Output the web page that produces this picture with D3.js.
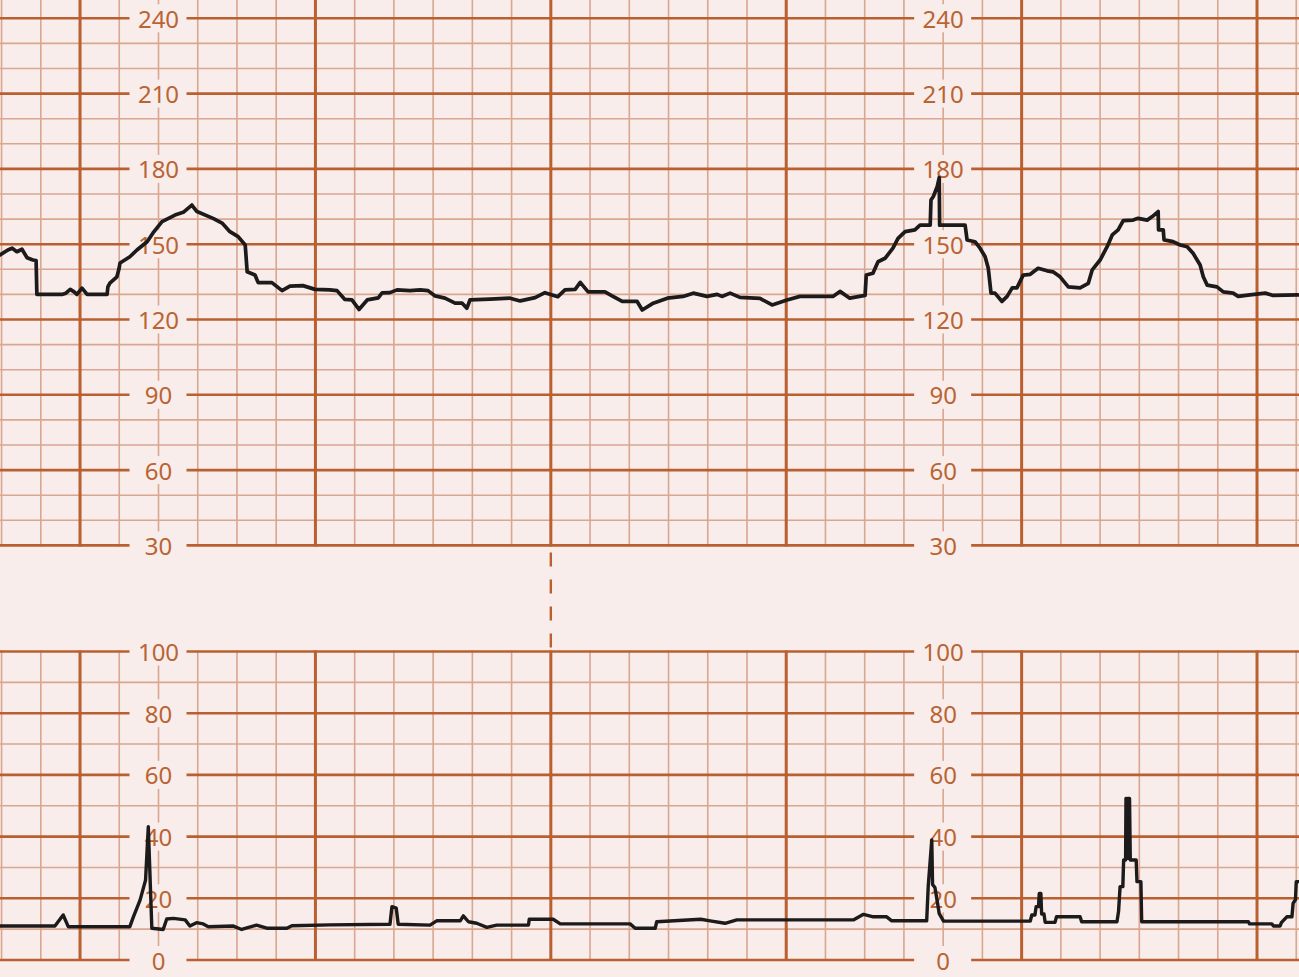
<!DOCTYPE html>
<html>
<head>
<meta charset="utf-8">
<script src="https://cdn.jsdelivr.net/npm/d3@7"></script>
<style>
  html, body { margin: 0; padding: 0; background: #f8edea; }
  svg { display: block; }
</style>
</head>
<body>
<svg id="chart" width="1299" height="977"></svg>
<script>
// ---- DATA (time in seconds) ----
const fhrTime = [-20.4,-18.4,-17.3,-16.1,-14.8,-13.5,-12.0,-11.2,-11.0,-4.6,-3.6,-2.5,-1.5,-0.8,0.5,1.8,6.9,7.1,7.6,9.4,9.9,10.2,12.7,14.5,17.1,18.6,20.9,24.2,26.3,28.5,29.8,33.9,36.2,38.2,40.3,42.1,42.6,44.6,45.4,48.9,51.5,53.5,56.8,59.9,63.7,65.5,67.5,69.3,71.1,73.2,76.0,77.0,79.0,80.8,84.1,86.7,88.7,90.5,93.0,95.6,97.4,98.6,99.4,104.5,109.6,112.2,116.0,118.5,121.8,123.6,126.2,127.5,129.5,133.8,135.6,138.2,142.0,143.3,146.1,149.7,153.7,156.3,159.8,162.4,163.6,165.7,168.2,173.3,176.4,180.2,183.5,191.9,193.7,196.2,200.1,200.4,202.1,203.4,205.2,207.2,208.5,210.3,212.8,214.1,216.7,216.9,217.5,218.5,219.0,219.1,225.6,226.1,228.1,229.4,230.7,231.5,232.2,233.2,235.0,236.3,237.6,238.8,240.4,242.2,244.2,246.5,248.0,249.8,251.9,254.9,257.0,258.0,260.0,261.8,263.1,264.6,265.9,268.4,269.7,272.0,273.3,274.8,274.9,276.1,276.3,278.6,280.4,282.2,283.7,285.5,286.3,287.3,289.8,291.4,293.9,295.2,298.2,302.1,304.1,310.5];
const fhrValue = [145.7,147.7,148.4,147,148,144.6,143.7,143.5,130,130,130.5,132,131,130,132.5,130,130,133,134.5,137,140,142.5,145,147.7,151,154.5,159,161.6,162.7,165.6,163,160.3,158.4,155,153,149.7,139,137.7,134.7,134.7,131.5,133.3,133.5,132,131.8,131.5,128,127.8,124,127.8,128.6,130.6,130.7,131.8,131.5,131.8,131.5,129.4,128.5,126.5,126.5,124.5,127.8,128.1,128.5,127.4,128.7,130.7,129.1,131.8,132,134.8,131,131,129.4,127.2,127.2,123.8,126.5,128.5,129.2,130.5,129.2,130,129.2,130.5,128.8,128.4,125.8,127.8,129.2,129.2,131.2,128.5,129.6,137.7,138.4,143,144.4,148.4,152.3,155,155.7,157.6,157.6,167.6,169,173,176.5,157.6,157.6,151.7,151,148.4,145,140.4,130.5,130.5,127.2,129.2,132.6,132.6,137.7,138,140.4,139.4,139,137,133,132.6,134.4,139.8,143.7,149,153.7,155.7,159.4,159.6,160.3,159.6,161,163,155.7,155.7,151.7,151,149.7,149,146.4,141.7,137,133.7,133,131,130.5,129.2,129.8,130.5,129.6,129.8];

const uaTime = [-20.4,-6.4,-4.3,-3.0,12.7,13.6,15.3,16.7,17.4,18.3,21.2,22.1,23.8,26.8,28.0,29.7,31.4,32.7,39.1,41.2,45.0,47.6,52.7,54.0,63.7,79.0,79.5,80.6,81.1,89.2,90.9,96.9,97.7,99.0,101.1,103.7,106.2,114.3,114.5,120.6,122.4,140.2,141.5,146.6,147.0,158.2,160.6,164.4,167.4,197.1,199.7,202.2,205.6,206.9,215.8,216.2,217.1,217.3,217.9,218.5,219.0,220.1,242.2,242.6,243.4,243.7,244.3,244.5,244.9,245.1,245.7,246.0,248.5,248.9,254.9,255.3,264.3,264.7,265.1,265.8,266.0,266.5,266.6,266.9,267.0,267.2,267.5,267.7,269.2,269.4,270.4,270.6,297.8,298.1,303.8,304.2,305.9,306.2,307.6,308.9,309.2,309.8,310.0,310.8];
const uaValue = [11,11,14.6,10.8,10.8,14,19.4,25.9,43.2,10.3,9.9,13.3,13.5,13,11,12.1,11.7,10.8,11,9.9,11.3,10.3,10.3,11.1,11.4,11.6,17.3,16.8,11.6,11.3,12.7,12.7,14.3,12.4,11.9,10.6,11.3,11.3,13.2,13.2,11.7,11.7,10.3,10.3,12.4,13.2,12.7,11.9,13,13,14.8,14,14,12.7,12.7,24,38.9,24.5,23.5,19,15,12.6,12.6,14.6,14.6,17.3,17.3,21.6,21.6,14.9,14.9,12.2,12.2,14,14,12.4,12.4,15.7,23.8,23.8,32.4,32.4,52.4,52.4,33,52.4,52.4,32.4,32.4,25.4,25.4,12.4,12.4,11.7,11.7,11,11,12.1,14,14,18.4,19.5,25.4,25.4];

const fhrTicks = [240,210,180,150,120,90,60,30];
const uaTicks = [100,80,60,40,20,0];
const labelTimes = [20, 220];   // columns where the scale labels sit
const dividerTime = 120;        // dashed connector between panels

// ---- LAYOUT ----
const W = 1299, H = 977;
const C = { bg: "#f8edea", major: "#b95f30", minor: "#d9a68f", text: "#b96434", trace: "#1c1a1a" };

const x = d3.scaleLinear().domain([-20.4, 310.7]).range([0, W]);
const yF = d3.scaleLinear().domain([30, 240]).range([545.4, 18.3]);
const yU = d3.scaleLinear().domain([0, 100]).range([960, 651.5]);

const svg = d3.select("#chart");
svg.append("rect").attr("width", W).attr("height", H).attr("fill", C.bg);

const gridT = d3.range(-20, 311, 10);
const isMajorT = t => ((t % 60) + 60) % 60 === 0;

function panel(y, vMin, vMax, majorStep, yTop, yBot) {
  const g = svg.append("g");
  const hv = d3.range(vMin, vMax + 1, 10);
  g.selectAll(".vmin").data(gridT.filter(t => !isMajorT(t))).join("line")
    .attr("x1", d => x(d)).attr("x2", d => x(d)).attr("y1", yTop).attr("y2", yBot)
    .attr("stroke", C.minor).attr("stroke-width", 1.6);
  g.selectAll(".hmin").data(hv.filter(v => v % majorStep !== 0)).join("line")
    .attr("x1", 0).attr("x2", W).attr("y1", d => y(d)).attr("y2", d => y(d))
    .attr("stroke", C.minor).attr("stroke-width", 1.6);
  g.selectAll(".hmaj").data(hv.filter(v => v % majorStep === 0)).join("line")
    .attr("x1", 0).attr("x2", W).attr("y1", d => y(d)).attr("y2", d => y(d))
    .attr("stroke", C.major).attr("stroke-width", 2.6);
  g.selectAll(".vmaj").data(gridT.filter(isMajorT)).join("line")
    .attr("x1", d => x(d)).attr("x2", d => x(d)).attr("y1", yTop).attr("y2", yBot)
    .attr("stroke", C.major).attr("stroke-width", 3);
}

panel(yF, 30, 240, 30, 0, yF(30) + 1);
panel(yU, 0, 100, 20, yU(100) - 1, yU(0) + 1);

// dashed connector
svg.append("line")
  .attr("x1", x(dividerTime)).attr("x2", x(dividerTime))
  .attr("y1", yF(30) + 1).attr("y2", yU(100) - 1)
  .attr("stroke", C.major).attr("stroke-width", 2.4)
  .attr("stroke-dasharray", "14 13").attr("stroke-dashoffset", -6);

// labels with background boxes
function labels(y, ticks) {
  labelTimes.forEach(t => {
    const g = svg.append("g");
    ticks.forEach(v => {
      g.append("rect").attr("x", x(t) - 29).attr("y", y(v) - 14)
        .attr("width", 57).attr("height", 28).attr("fill", C.bg);
      g.append("text").attr("x", x(t)).attr("y", y(v))
        .attr("text-anchor", "middle").attr("dominant-baseline", "central")
        .attr("font-family", "'Noto Sans', 'Open Sans', sans-serif")
        .attr("font-size", 24).attr("fill", C.text).text(v);
    });
  });
}
labels(yF, fhrTicks);
labels(yU, uaTicks);

// traces
const fhr = fhrTime.map((t, i) => [t, fhrValue[i]]);
const ua = uaTime.map((t, i) => [t, uaValue[i]]);

svg.append("path").datum(fhr)
  .attr("d", d3.line().x(d => x(d[0])).y(d => yF(d[1])))
  .attr("fill", "none").attr("stroke", C.trace).attr("stroke-width", 3.7)
  .attr("stroke-linejoin", "round").attr("stroke-linecap", "round");

svg.append("path").datum(ua)
  .attr("d", d3.line().x(d => x(d[0])).y(d => yU(d[1])))
  .attr("fill", "none").attr("stroke", C.trace).attr("stroke-width", 3.4)
  .attr("stroke-linejoin", "round").attr("stroke-linecap", "round");
</script>
</body>
</html>
